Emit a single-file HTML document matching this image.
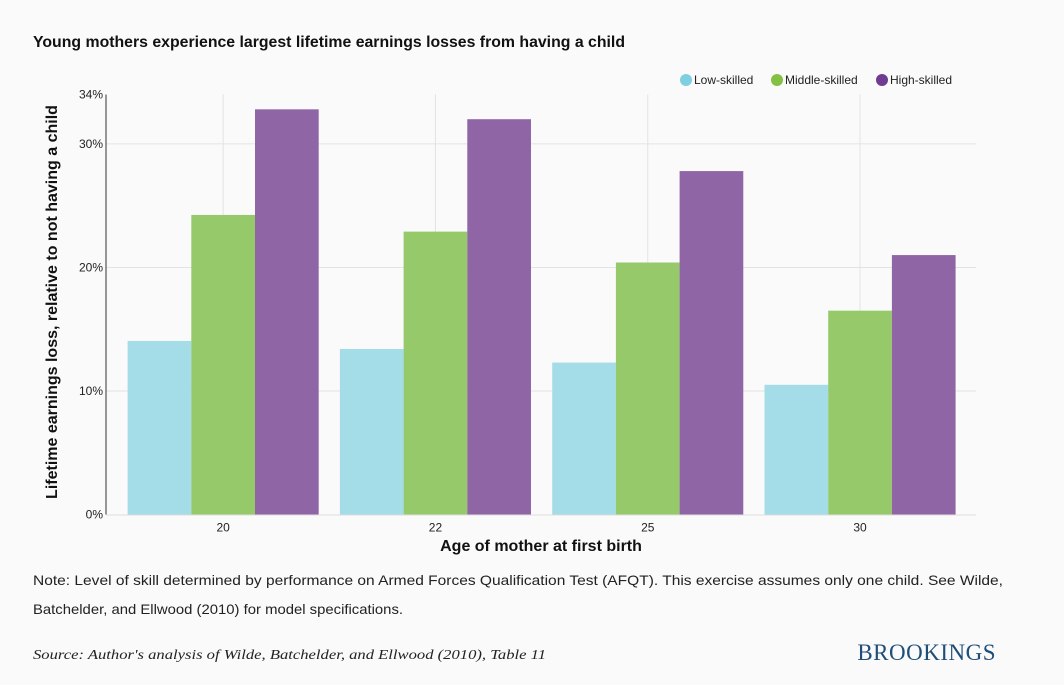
<!DOCTYPE html>
<html><head><meta charset="utf-8"><style>
body{margin:0;background:#fafafa;font-family:"Liberation Sans",sans-serif;}
svg{display:block}
</style></head><body>
<svg width="1064" height="685" viewBox="0 0 1064 685">
<rect width="1064" height="685" fill="#fafafa"/>
<text x="33" y="47" font-size="16" font-weight="bold" fill="#111" textLength="592" lengthAdjust="spacingAndGlyphs">Young mothers experience largest lifetime earnings losses from having a child</text>
<g id="grid"></g>
<g id="bars"></g>
<g id="axes"></g>
<g id="legend"></g>
<text transform="translate(57,302) rotate(-90)" text-anchor="middle" font-size="16" font-weight="bold" fill="#111">Lifetime earnings loss, relative to not having a child</text>
<text x="541" y="551" text-anchor="middle" font-size="16" font-weight="bold" fill="#111">Age of mother at first birth</text>
<text x="33" y="585" font-size="14" fill="#222" textLength="970" lengthAdjust="spacingAndGlyphs">Note: Level of skill determined by performance on Armed Forces Qualification Test (AFQT). This exercise assumes only one child. See Wilde,</text>
<text x="33" y="614" font-size="14" fill="#222" textLength="370" lengthAdjust="spacingAndGlyphs">Batchelder, and Ellwood (2010) for model specifications.</text>
<text x="33" y="659" font-size="14" font-style="italic" font-family="Liberation Serif,serif" fill="#222" textLength="513" lengthAdjust="spacingAndGlyphs">Source: Author's analysis of Wilde, Batchelder, and Ellwood (2010), Table 11</text>
<text x="996" y="660" text-anchor="end" font-size="23" font-family="Liberation Serif,serif" fill="#1f4e79" letter-spacing="0.5">BROOKINGS</text>
</svg>
<script>
const categories=["20","22","25","30"];
const seriesNames=["Low-skilled","Middle-skilled","High-skilled"];
const lowValues=[14.05,13.4,12.3,10.5];
const midValues=[24.25,22.9,20.4,16.5];
const highValues=[32.8,32.0,27.8,21.0];
const yTicks=[0,10,20,30,34];
const yTickLabels=["0%","10%","20%","30%","34%"];
const colors=["#a4dce8","#95c96a","#8f65a5"];
(function(){
const NS="http://www.w3.org/2000/svg";
const x0=117,bandW=212.3,plotTop=94.5,plotBottom=514.5,yMax=34,left=106,right=976;
const y=v=>plotBottom-(v/yMax)*(plotBottom-plotTop);
const xBand=i=>x0+i*bandW;
function mk(tag,attrs,parent){const e=document.createElementNS(NS,tag);for(const k in attrs)e.setAttribute(k,attrs[k]);parent.appendChild(e);return e;}
const grid=document.getElementById('grid'),bars=document.getElementById('bars'),axes=document.getElementById('axes'),legend=document.getElementById('legend');
yTicks.forEach((t,i)=>{
 if(t>0&&t<yMax){const l=mk('line',{x1:left,x2:right,y1:y(t),y2:y(t),stroke:'#e3e3e3','stroke-width':1},grid);
 
 }
 const tx=mk('text',{x:left-3,y:y(t)+4,'text-anchor':'end','font-size':12,fill:'#222'},axes);
 tx.textContent=yTickLabels[i];
 
 
});
categories.forEach((c,i)=>{
 const cx=xBand(i)+bandW/2;
 const l=mk('line',{x1:cx,x2:cx,y1:plotTop,y2:plotBottom,stroke:'#e3e3e3','stroke-width':1},grid);
 
 
 const tx=mk('text',{x:cx,y:plotBottom+17,'text-anchor':'middle','font-size':12,fill:'#222'},axes);
 tx.textContent=c;
 
 
});
const all=[lowValues,midValues,highValues];
const pad=bandW*0.05,bw=(bandW-2*pad)/3;
all.forEach((vals,s)=>{vals.forEach((v,i)=>{
 const r=mk('rect',{x:xBand(i)+pad+s*bw,y:y(v),width:bw,height:plotBottom-y(v),fill:colors[s]},bars);
 
 
});});
const ax=mk('line',{x1:left,x2:left,y1:plotTop,y2:plotBottom,stroke:'#333','stroke-width':1},axes);


const bx=mk('line',{x1:left,x2:right,y1:plotBottom+0.5,y2:plotBottom+0.5,stroke:'#ddd','stroke-width':1},axes);


const legX=[686,777,882],legDot=["#7fcfe0","#84c043","#6f3c91"];
seriesNames.forEach((n,s)=>{
 const g=mk('g',{},legend);
 
 
 mk('circle',{cx:legX[s],cy:80,r:6,fill:legDot[s]},g);
 const t=mk('text',{x:legX[s]+8,y:84,'font-size':12,fill:'#222'},g);
 t.textContent=n;
});
})();
</script>
</body></html>
